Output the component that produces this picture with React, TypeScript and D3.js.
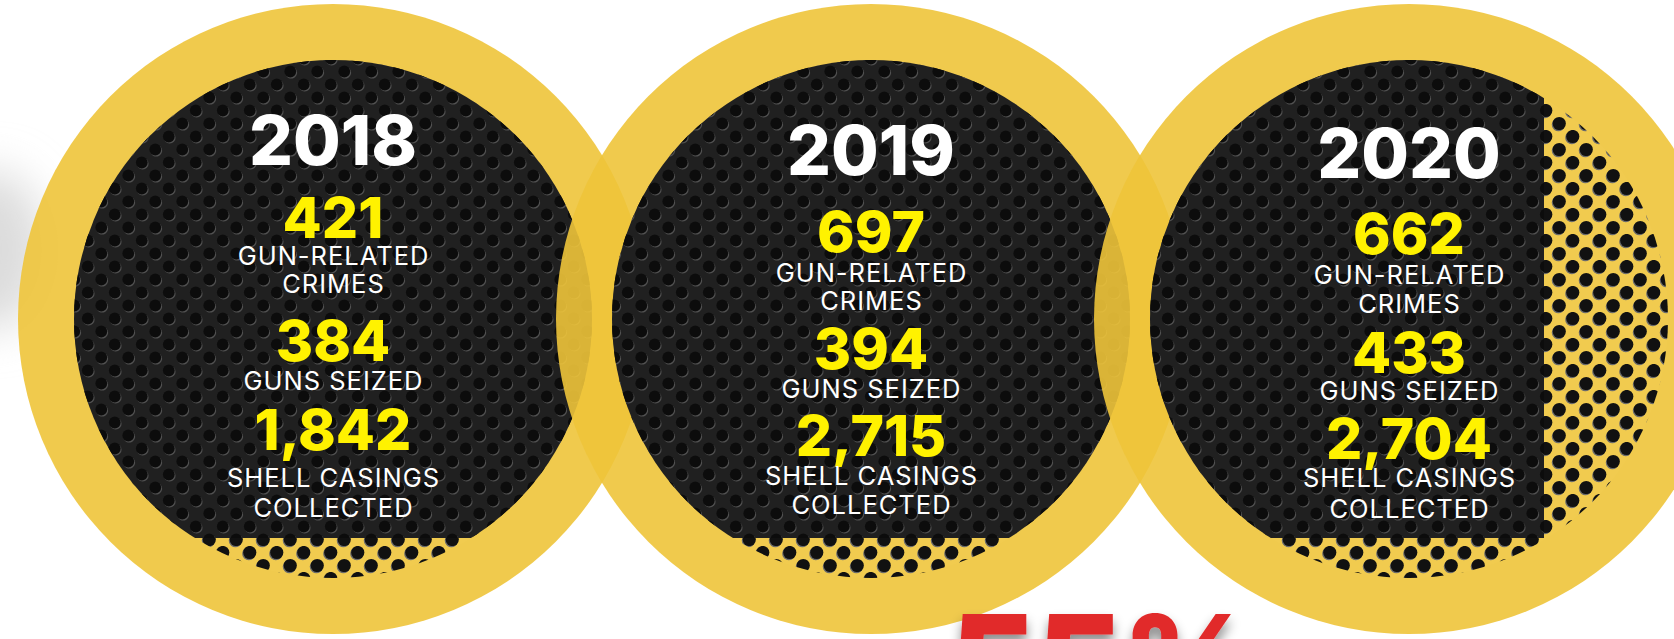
import React from "react";
import * as d3 from "d3";

// figures per year
const years = ["2018", "2019", "2020"];
const gunCrimes = [421, 697, 662];
const gunsSeized = [384, 394, 433];
const shellCasings = [1842, 2715, 2704];
const crimeLabel = ["GUN-RELATED", "CRIMES"];
const seizedLabel = ["GUNS SEIZED"];
const shellLabel = ["SHELL CASINGS", "COLLECTED"];
const headline = "55%";

const W = 1674;
const H = 639;
const CY = 319;
const R_OUT = 315;
const R_IN = 259;
// the dark metal plate stops here, the yellow halftone shows below / right of it
const PLATE_RIGHT = 1544;
const PLATE_BOTTOM = 538;

// text baselines inside each circle:
// year, crimes num, crimes l1, l2, seized num, seized l1, shells num, shells l1, l2
const baselines = [
  [165, 238, 265, 293, 361, 390, 450, 487, 517],
  [175, 252, 282, 310, 369, 398, 456, 485, 514],
  [178, 254, 284, 313, 373, 400, 459, 487, 518],
];

const TILE_W = 27;
const TILE_H = 26;
const holeCenters = [
  [6.75, 6.5],
  [20.25, 19.5],
];
// copies of every hole in the neighbouring tiles so nothing gets cut at the seams
const wraps = d3.cross([-TILE_W, 0, TILE_W], [-TILE_H, 0, TILE_H]);
const holes = d3.cross(holeCenters, wraps).map(([c, o]) => [c[0] + o[0], c[1] + o[1]]);

const fmt = d3.format(",");
const FONT = "Inter, 'Noto Sans', sans-serif";

export default function App() {
  const x = d3.scalePoint<string>().domain(years).range([333, 1409]);

  return (
    <svg
      width={W}
      height={H}
      viewBox={`0 0 ${W} ${H}`}
      style={{ position: "absolute", left: 0, top: 0, background: "#fff" }}
    >
      <defs>
        <pattern id="perf" patternUnits="userSpaceOnUse" width={TILE_W} height={TILE_H}>
          <rect width={TILE_W} height={TILE_H} fill="#202020" />
          {holes.map(([hx, hy], i) => (
            <circle key={"h" + i} cx={hx + 0.9} cy={hy + 1.2} r={5.9} fill="#505050" />
          ))}
          {holes.map(([hx, hy], i) => (
            <circle key={"d" + i} cx={hx} cy={hy} r={5.9} fill="#0c0c0c" />
          ))}
        </pattern>
        <pattern id="halftone" patternUnits="userSpaceOnUse" width={TILE_W} height={TILE_H}>
          <rect width={TILE_W} height={TILE_H} fill="#f1cb4f" />
          {holes.map(([hx, hy], i) => (
            <circle key={"h" + i} cx={hx - 0.9} cy={hy + 1.2} r={6.6} fill="#6a6a6a" />
          ))}
          {holes.map(([hx, hy], i) => (
            <circle key={"d" + i} cx={hx} cy={hy} r={6.6} fill="#111" />
          ))}
        </pattern>
        {years.map((y) => (
          <clipPath key={y} id={"inner" + y}>
            <circle cx={x(y)} cy={CY} r={R_IN} />
          </clipPath>
        ))}
        <filter id="blur" x="-100%" y="-100%" width="300%" height="300%">
          <feGaussianBlur stdDeviation={22} />
        </filter>
        <filter id="shadow" x="-20%" y="-20%" width="140%" height="160%">
          <feDropShadow dx={0} dy={8} stdDeviation={6} floodColor="#000" floodOpacity={0.45} />
        </filter>
      </defs>

      <rect width={W} height={H} fill="#fff" />
      <ellipse cx={-10} cy={250} rx={55} ry={80} fill="#dcdcdc" filter="url(#blur)" />

      {years.map((y) => {
        const cx = x(y)!;
        return (
          <g key={y}>
            <circle cx={cx} cy={CY} r={R_OUT} fill="#eec43a" fillOpacity={0.9} />
            <g clipPath={`url(#inner${y})`}>
              <rect x={cx - R_IN} y={CY - R_IN} width={2 * R_IN} height={2 * R_IN} fill="url(#halftone)" />
              <rect x={0} y={0} width={PLATE_RIGHT} height={PLATE_BOTTOM} fill="url(#perf)" />
            </g>
          </g>
        );
      })}

      {years.map((y, i) => {
        const cx = x(y)!;
        const b = baselines[i];
        const num = (v: number, by: number) => (
          <text x={cx} y={by} textAnchor="middle" fontFamily={FONT} fontWeight={800} fontSize={57} fill="#fff200">
            {fmt(v)}
          </text>
        );
        const lab = (t: string, by: number) => (
          <text
            x={cx + 0.5}
            y={by}
            textAnchor="middle"
            fontFamily={FONT}
            fontWeight={400}
            fontSize={25.5}
            letterSpacing={1}
            fill="#fff"
          >
            {t}
          </text>
        );
        return (
          <g key={"t" + y}>
            <text x={cx} y={b[0]} textAnchor="middle" fontFamily={FONT} fontWeight={800} fontSize={69} fill="#fff">
              {y}
            </text>
            {num(gunCrimes[i], b[1])}
            {lab(crimeLabel[0], b[2])}
            {lab(crimeLabel[1], b[3])}
            {num(gunsSeized[i], b[4])}
            {lab(seizedLabel[0], b[5])}
            {num(shellCasings[i], b[6])}
            {lab(shellLabel[0], b[7])}
            {lab(shellLabel[1], b[8])}
          </g>
        );
      })}

      <text x={950} y={709} fontFamily={FONT} fontWeight={900} fontSize={130} fill="#e12c2c" filter="url(#shadow)">
        {headline}
      </text>
    </svg>
  );
}
